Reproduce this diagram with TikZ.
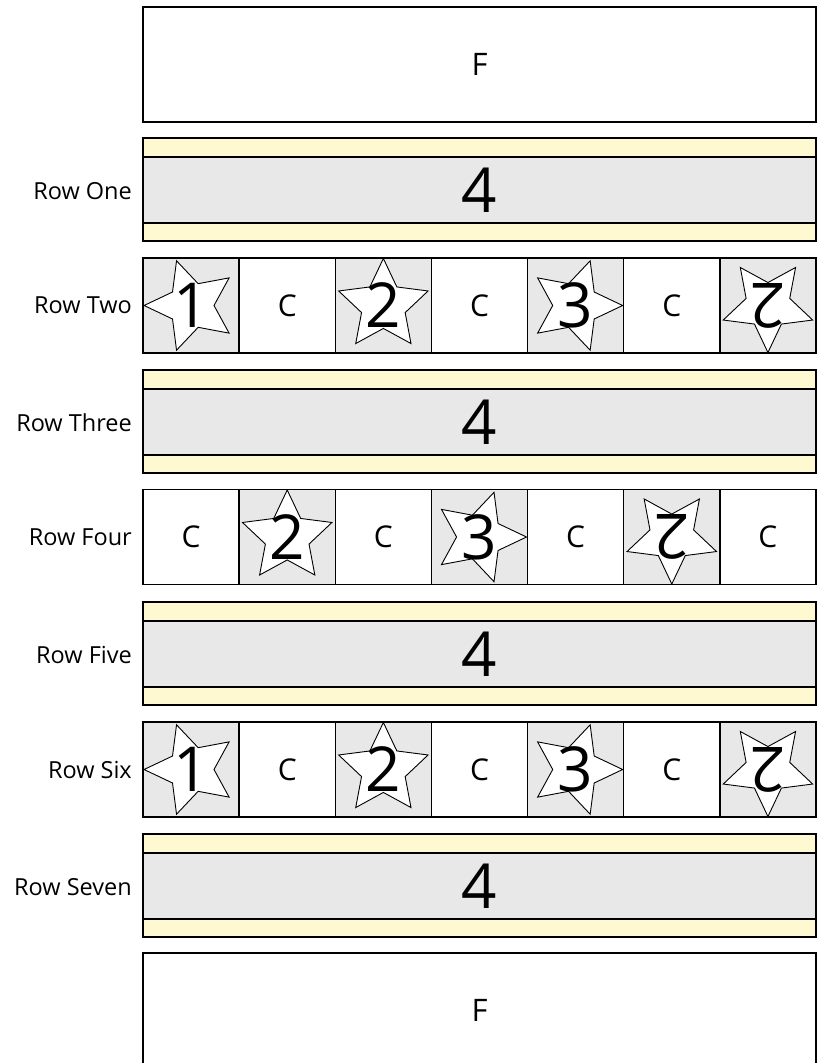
\documentclass[tikz,border=0pt]{standalone}
\usepackage{fontspec}
\setmainfont{Open Sans}
\usetikzlibrary{shapes.geometric}
\definecolor{stripyellow}{RGB}{255,249,210}
\definecolor{cellgrey}{RGB}{232,232,232}
\newcommand{\starcell}[6]{%
  \node[cellbox, fill=cellgrey] (#1) at (#2,#3) {};
  \node[starbox, shape border rotate=#4] (#1s) at (#1) {};
  \node[digit, rotate=#5] (#1d) at (#1) {#6};
}
\newcommand{\ccell}[3]{%
  \node[cellbox, fill=white, font=\fontsize{30}{30}\selectfont] (#1) at (#2,#3) {C};
}
\begin{document}
\begin{tikzpicture}[x=1pt,y=-1pt,
  frame/.style={draw=black, line width=1.3pt, inner sep=0pt},
  bigbox/.style={frame, fill=white, minimum width=673pt, minimum height=115pt, font=\fontsize{31}{31}\selectfont},
  strip/.style={frame, fill=stripyellow, minimum width=673pt},
  greyband/.style={frame, fill=cellgrey, minimum width=673pt, minimum height=66pt, font=\fontsize{62}{62}\selectfont},
  cellbox/.style={frame, minimum width=96.14pt, minimum height=95pt},
  starbox/.style={star, star points=5, star point ratio=2.05, draw=black, line width=0.9pt, fill=white, minimum size=94pt, inner sep=0pt},
  digit/.style={inner sep=0pt, font=\fontsize{62}{62}\selectfont},
  rowlabel/.style={anchor=east, inner sep=0pt, font=\fontsize{23.5}{23.5}\selectfont}]
\useasboundingbox (0,0) rectangle (821,1063);
\clip (0,0) rectangle (821,1063);

% top and bottom F boxes
\node[bigbox] (ftop) at (479.5,64.5) {F};
\node[bigbox] (fbot) at (479.5,1010.5) {F};

% strip rows
\foreach \r/\y/\lab in {1/138/Row One, 3/370/Row Three, 5/602/Row Five, 7/834/Row Seven} {
  \node[strip, minimum height=19pt] (ytop\r) at (479.5,\y+9.5) {};
  \node[greyband] (band\r) at (479.5,\y+52) {4};
  \node[strip, minimum height=18pt] (ybot\r) at (479.5,\y+94) {};
  \node[rowlabel] (lab\r) at (132,\y+53) {\lab};
}

% cell rows
\foreach \r/\y/\lab in {2/305.5/Row Two, 6/769.5/Row Six} {
  \node[rowlabel] (lab\r) at (132,\y) {\lab};
  \starcell{c\r a}{191.07}{\y}{90}{0}{1}
  \ccell{c\r b}{287.21}{\y}
  \starcell{c\r c}{383.36}{\y}{0}{0}{2}
  \ccell{c\r d}{479.5}{\y}
  \starcell{c\r e}{575.64}{\y}{-90}{0}{3}
  \ccell{c\r f}{671.79}{\y}
  \starcell{c\r g}{767.93}{\y}{180}{180}{2}
}
\node[rowlabel] (lab4) at (132,537) {Row Four};
\ccell{c4a}{191.07}{537}
\starcell{c4b}{287.21}{537}{0}{0}{2}
\ccell{c4c}{383.36}{537}
\starcell{c4d}{479.5}{537}{-90}{0}{3}
\ccell{c4e}{575.64}{537}
\starcell{c4f}{671.79}{537}{180}{180}{2}
\ccell{c4g}{767.93}{537}
\end{tikzpicture}
\end{document}
